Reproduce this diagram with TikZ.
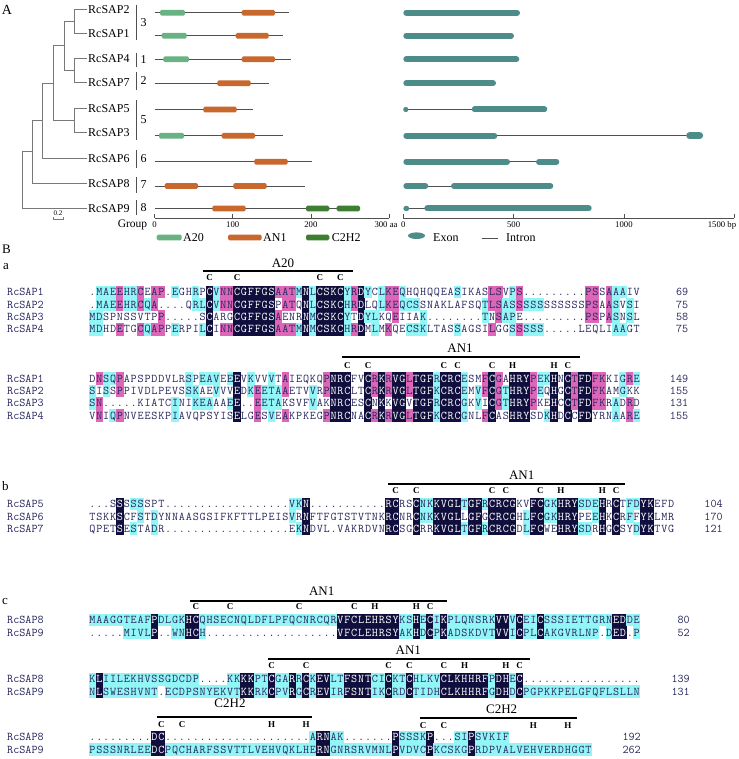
\documentclass[tikz,border=0pt]{standalone}
\usepackage{fontspec}
\setmainfont{Liberation Serif}
\definecolor{aTwenty}{RGB}{104,178,132}
\definecolor{anOne}{RGB}{201,104,44}
\definecolor{cTwoH}{RGB}{62,126,50}
\definecolor{exonc}{RGB}{78,140,138}
\definecolor{dkc}{RGB}{16,14,60}
\definecolor{mgc}{RGB}{220,102,184}
\definecolor{cyc}{RGB}{146,246,246}
\definecolor{seqtxt}{RGB}{40,40,95}
\definecolor{treec}{RGB}{120,120,120}
\definecolor{linec}{RGB}{80,80,80}
\newcommand\seqfont{\ttfamily\fontsize{11.8}{12}\selectfont}
\newcount\colk \newcount\matchn \newcount\nseq
\def\cw{6.89}\def\rowsep{12.4}
\def\zch{z}\def\dotch{.}\def\shdnone{none}\def\shddk{dkc}
\def\Dv{.....}
\def\popc#1#2{\ifx#1\empty\def#2{z}\else\expandafter\popcaux#1\popend#1#2\fi}
\def\popcaux#1#2\popend#3#4{\def#4{#1}\def#3{#2}}
\newif\ifmorecols
\def\blkloop{\morecolsfalse
  \ifx\sA\empty\else\morecolstrue\fi
  \ifx\sB\empty\else\morecolstrue\fi
  \ifx\sC\empty\else\morecolstrue\fi
  \ifx\sD\empty\else\morecolstrue\fi
  \ifmorecols\blkcol\expandafter\blkloop\fi}
\def\blkcol{\popc\sA\cA\popc\sB\cB\popc\sC\cC\popc\sD\cD
  \pgfmathsetmacro\xx{\bx+(\the\colk+0.5)*\cw}%
  \dorow{1}\cA\dorow{2}\cB\dorow{3}\cC\dorow{4}\cD
  \advance\colk by 1\relax}
\def\dorow#1#2{%
 \ifnum#1>\nseq\relax\else
  \ifx#2\zch\else
   \pgfmathsetmacro\yy{\by+(#1-1)*\rowsep}%
   \edef\nname{\blkid r#1c\the\colk}%
   \ifx#2\dotch
     \node[seqch,text=seqtxt] (\nname) at (\xx,\yy+3.6) {.};%
   \else
     \matchn=0\relax
     \ifx#2\cA\advance\matchn by 1\relax\fi
     \ifx#2\cB\advance\matchn by 1\relax\fi
     \ifx#2\cC\advance\matchn by 1\relax\fi
     \ifx#2\cD\advance\matchn by 1\relax\fi
     \ifnum\matchn=\nseq\relax \def\shd{dkc}\else
       \ifnum\numexpr4*\matchn\relax<\numexpr3*\nseq\relax
         \ifnum\numexpr2*\matchn\relax<\nseq\relax\def\shd{none}\else\def\shd{cyc}\fi
       \else\def\shd{mgc}\fi
     \fi
     \ifx\shd\shdnone\def\tcol{seqtxt}\else
       \fill[fill=\shd] (\xx-\cw/2-0.2,\yy-\rowsep/2-0.2) rectangle (\xx+\cw/2+0.2,\yy+\rowsep/2+0.2);%
       \ifx\shd\shddk\def\tcol{white}\else\def\tcol{seqtxt}\fi
     \fi
     \node[seqch,text=\tcol] (\nname) at (\xx,\yy+3.6) {#2};%
   \fi
  \fi
 \fi}
\def\alignblock#1#2#3#4#5#6#7#8{\def\blkid{#1}\def\bx{#2}\def\by{#3}\nseq=#4\relax
  \edef\sA{#5}\edef\sB{#6}\edef\sC{#7}\edef\sD{#8}\colk=0\relax\blkloop}
\newcommand\ctag[4]{\pgfmathsetmacro\tagx{89+(#2+0.5)*\cw}\node[tagf] (#1) at (\tagx,#3+3) {#4};}
\newcommand\dbarline[4]{\coordinate (#1l) at (#2,#4); \coordinate (#1r) at (#3,#4); \draw[dbar] (#1l) -- (#1r);}
\newcommand\rlab[3]{\node[rname] (#1) at (7,#3+3.6) {#2};}
\newcommand\rnumb[4]{\node[rnum] (#1) at (#2,#3+3.6) {#4};}
\newcommand\domb[4]{\fill[#1, rounded corners=1.5pt] (#2,#4-2.9) rectangle (#3,#4+2.9);}
\newcommand\exn[3]{\draw[exonc, line width=6pt, line cap=round] (#1+3,#3) -- (#2-3,#3);}
\begin{document}
\begin{tikzpicture}[x=1pt,y=-1pt,
  leaf/.style={anchor=west,inner sep=0pt,font=\fontsize{12}{12}\selectfont},
  grpn/.style={inner sep=0pt,font=\fontsize{12}{12}\selectfont},
  axl/.style={anchor=base,inner sep=0pt,font=\fontsize{8.7}{9}\selectfont},
  lgd/.style={anchor=west,inner sep=0pt,font=\fontsize{12}{12}\selectfont},
  treeln/.style={draw=treec,line width=1pt},
  gbar/.style={draw=linec,line width=0.9pt},
  pline/.style={draw=linec,line width=0.8pt},
  seqch/.style={anchor=base,inner sep=0pt,font=\seqfont},
  rname/.style={anchor=base west,inner sep=0pt,font=\seqfont,text=seqtxt},
  rnum/.style={anchor=base east,inner sep=0pt,font=\seqfont,text=seqtxt},
  tagf/.style={anchor=base,inner sep=0pt,font=\fontsize{9}{9}\selectfont\bfseries},
  ttl/.style={inner sep=0pt,font=\fontsize{13}{13}\selectfont},
  dbar/.style={draw=black,line width=1.8pt},
  plab/.style={inner sep=0pt,font=\fontsize{14}{14}\selectfont},
  plabs/.style={anchor=base west,inner sep=0pt,font=\fontsize{13}{13}\selectfont}]
\useasboundingbox (0,0) rectangle (738,759);
\fill[white] (0,0) rectangle (738,759);
% ================= Panel A =================
\node[plab] (labA) at (7,10) {A};
\node[leaf] (L2) at (88,9.5) {RcSAP2};
\node[leaf] (L1) at (88,33.5) {RcSAP1};
\node[leaf] (L4) at (88,58.5) {RcSAP4};
\node[leaf] (L7) at (88,82.5) {RcSAP7};
\node[leaf] (L5) at (88,108.3) {RcSAP5};
\node[leaf] (L3) at (88,132.7) {RcSAP3};
\node[leaf] (L6) at (88,158.3) {RcSAP6};
\node[leaf] (L8) at (88,183.3) {RcSAP8};
\node[leaf] (L9) at (88,208.3) {RcSAP9};
\coordinate (n21) at (74,21.5);
\coordinate (n47) at (74,70.5);
\coordinate (n2147) at (64,46);
\coordinate (n53) at (74,120.5);
\coordinate (nA) at (53.3,83.3);
\coordinate (nB) at (42.7,120.8);
\coordinate (nC) at (32.3,152);
\coordinate (nroot) at (22.3,180.2);
\draw[treeln] ([xshift=-1pt]L2.west) -| (n21);
\draw[treeln] ([xshift=-1pt]L1.west) -| (n21);
\draw[treeln] ([xshift=-1pt]L4.west) -| (n47);
\draw[treeln] ([xshift=-1pt]L7.west) -| (n47);
\draw[treeln] (n21) -| (n2147);
\draw[treeln] (n47) -| (n2147);
\draw[treeln] ([xshift=-1pt]L5.west) -| (n53);
\draw[treeln] ([xshift=-1pt]L3.west) -| (n53);
\draw[treeln] (n2147) -| (nA);
\draw[treeln] (n53) -| (nA);
\draw[treeln] (nA) -| (nB);
\draw[treeln] ([xshift=-1pt]L6.west) -| (nB);
\draw[treeln] (nB) -| (nC);
\draw[treeln] ([xshift=-1pt]L8.west) -| (nC);
\draw[treeln] (nC) -| (nroot);
\draw[treeln] ([xshift=-1pt]L9.west) -| (nroot);
% scale bar
\node[inner sep=0pt,font=\fontsize{7}{7}\selectfont] (scl) at (58,213) {0.2};
\coordinate (sc1) at (53,216.5); \coordinate (sc2) at (53,219.5);
\coordinate (sc3) at (63,219.5); \coordinate (sc4) at (63,216.5);
\draw[treeln,line width=0.6pt] (sc1) -- (sc2) -- (sc3) -- (sc4);
% group bars
\foreach \gn/\ga/\gb/\gy in {g3/5/40/3, g1/53/67/1, g2/72/90/2, g5/100/140/5, g6/150/168/6, g7/177/193/7, g8/200/215/8}{
  \coordinate (\gn a) at (136.7,\ga); \coordinate (\gn b) at (136.7,\gb);
  \draw[gbar] (\gn a) -- (\gn b);
  \node[grpn] (\gn t) at (143.5,{(\ga+\gb)/2}) {\gy};
}
\node[inner sep=0pt,font=\fontsize{11.5}{12}\selectfont] (grpl) at (132.5,225) {Group};
% protein structures
\foreach \pn/\py/\pe in {p2/12.7/289.3, p1/35.7/282.7, p4/59.3/290.7, p7/83.3/268.7, p5/109.5/252.7, p3/135.7/282.7, p6/161.7/311.7, p8/186/305, p9/208.5/358}{
  \coordinate (\pn s) at (154.5,\py); \coordinate (\pn e) at (\pe,\py);
  \draw[pline] (\pn s) -- (\pn e);
}
\domb{aTwenty}{160}{185}{12.7}\domb{anOne}{241.7}{275}{12.7}
\domb{aTwenty}{161.7}{186.7}{35.7}\domb{anOne}{235.7}{268.7}{35.7}
\domb{aTwenty}{163.3}{189}{59.3}\domb{anOne}{241.7}{275}{59.3}
\domb{anOne}{217.3}{250.7}{83.3}
\domb{anOne}{203.3}{236.7}{109.5}
\domb{aTwenty}{159}{184}{135.7}\domb{anOne}{221.7}{255}{135.7}
\domb{anOne}{254.3}{287.7}{161.7}
\domb{anOne}{164.7}{198}{186}\domb{anOne}{233.3}{266.7}{186}
\domb{anOne}{212.3}{245.7}{208.5}\domb{cTwoH}{306}{329.3}{208.5}\domb{cTwoH}{336.7}{360}{208.5}
% left axis
\coordinate (lax0) at (154.5,218.3); \coordinate (lax3) at (389.1,218.3);
\draw[pline] (lax0) -- (lax3);
\foreach \tx in {154.5,232.7,310.9,389.1}{\draw[pline] (\tx,214.3) -- (\tx,218.3);}
\node[axl] (lt0) at (154.5,227.5) {0};
\node[axl] (lt1) at (232.7,227.5) {100};
\node[axl] (lt2) at (310.9,227.5) {200};
\node[axl] (lt3) at (386,227.5) {300 aa};
% left legend
\domb{aTwenty}{156.7}{181.7}{237.5}\node[lgd] (lgA) at (183,238) {A20};
\domb{anOne}{228}{261.7}{237.5}\node[lgd] (lgB) at (263,238) {AN1};
\domb{cTwoH}{306}{329.3}{237.5}\node[lgd] (lgC) at (331.7,238) {C2H2};
% gene structures
\exn{403.3}{520}{12.7}
\exn{403.3}{514}{35.7}
\exn{403.3}{519.3}{59.3}
\exn{403.3}{496}{83.3}
\coordinate (i5a) at (405.8,109.5); \coordinate (i5b) at (474,109.5);
\draw[pline] (i5a) -- (i5b);
\fill[exonc] (405.8,109.5) ellipse (2.6 and 2.6);
\exn{471.7}{547.3}{109.5}
\coordinate (i3a) at (495,135.7); \coordinate (i3b) at (690,135.7);
\draw[pline] (i3a) -- (i3b);
\exn{403.3}{497.3}{135.7}
\draw[exonc, line width=7pt, line cap=round] (689.7,135.7) -- (699.6,135.7);
\coordinate (i6a) at (508,161.7); \coordinate (i6b) at (538,161.7);
\draw[pline] (i6a) -- (i6b);
\exn{403.3}{510}{161.7}\exn{536}{559.3}{161.7}
\coordinate (i8a) at (426,186); \coordinate (i8b) at (453,186);
\draw[pline] (i8a) -- (i8b);
\exn{403.3}{428.3}{186}\exn{451}{553.3}{186}
\coordinate (i9a) at (406,208.5); \coordinate (i9b) at (427,208.5);
\draw[pline] (i9a) -- (i9b);
\fill[exonc] (406.3,208.5) ellipse (3 and 2.7);
\exn{424.3}{591.7}{208.5}
% right axis
\coordinate (rax0) at (403.3,218.3); \coordinate (rax3) at (734.2,218.3);
\draw[pline] (rax0) -- (rax3);
\foreach \tx in {403.3,513.6,623.9,734.2}{\draw[pline] (\tx,214.3) -- (\tx,218.3);}
\node[axl] (rt0) at (403.3,227.5) {0};
\node[axl] (rt1) at (513.6,227.5) {500};
\node[axl] (rt2) at (623.9,227.5) {1000};
\node[axl] (rt3) at (722,227.5) {1500 bp};
\fill[exonc] (416.5,235.7) ellipse (8.5 and 3.3);
\node[lgd] (lgE) at (433,237.5) {Exon};
\coordinate (lgi1) at (481.7,238.3); \coordinate (lgi2) at (498.3,238.3);
\draw[pline] (lgi1) -- (lgi2);
\node[lgd] (lgI) at (506,237.5) {Intron};
% ================= Panel B =================
\node[plabs] (labB) at (2,253.5) {B};
\node[plabs] (laba) at (3,269.5) {a};
\node[plabs] (labb) at (2,490) {b};
\node[plabs] (labc) at (2,604) {c};
% ---- block a1
\node[ttl] (ta1) at (283,263) {A20};
\dbarline{ba1}{203}{353.3}{270.7}
\ctag{ca1a}{17}{277.7}{C}\ctag{ca1b}{21}{277.7}{C}\ctag{ca1c}{33}{277.7}{C}\ctag{ca1d}{36}{277.7}{C}
\rlab{na1a}{RcSAP1}{292}\rlab{na1b}{RcSAP2}{304.4}\rlab{na1c}{RcSAP3}{316.8}\rlab{na1d}{RcSAP4}{329.2}
\alignblock{qa}{89}{292}{4}%
{.MAEEHRCEAP.EGHRPCVNNCGFFGSAATMNLCSKCYRDYCLKEQHQHQQEASIKASLSVPS\Dv....PSSAAAIV}%
{.MAEEHRCQA....QRLCVNNCGFFGSPATQNLCSKCHRDLQLKEQCSSNAKLAFSQTLSASSSSSSSSSSSPSAASVSI}%
{MDSPNSSVTPP\Dv SCARGCGFFGSAENRNMCSKCYTDYLKQEIIAK\Dv...TNSAPE\Dv....PSPASNSL}%
{MDHDETGCQAPPERPILCINNCGFFGSAATMNMCSKCHRDMLMKQECSKLTASSAGSILGGSSSSS\Dv LEQLIAAGT}
\rnumb{ma1a}{688.4}{292}{69}\rnumb{ma1b}{688.4}{304.4}{75}\rnumb{ma1c}{688.4}{316.8}{58}\rnumb{ma1d}{688.4}{329.2}{75}
% ---- block a2
\node[ttl] (ta2) at (460,348.3) {AN1};
\dbarline{ba2}{341.7}{580}{357.3}
\ctag{ca2a}{37}{365}{C}\ctag{ca2b}{40}{365}{C}\ctag{ca2c}{51}{365}{C}\ctag{ca2d}{53}{365}{C}
\ctag{ca2e}{58}{365}{C}\ctag{ca2f}{61}{365}{H}\ctag{ca2g}{67}{365}{H}\ctag{ca2h}{69}{365}{C}
\rlab{na2a}{RcSAP1}{378.5}\rlab{na2b}{RcSAP2}{390.9}\rlab{na2c}{RcSAP3}{403.3}\rlab{na2d}{RcSAP4}{415.7}
\alignblock{qb}{89}{378.5}{4}%
{DNSQPAPSPDDVLRSPEAVEEEVKVVVTAIEQKQPNRCFVCRKRVGLTGFRCRCESMFCGAHRYPEKHNCTFDFKKIGRE}%
{SISSPPIVDLPEVSSKAEVVVEDKEETAAETVVRPNRCLTCRKRVGLTGFKCRCEMVFCGTHRYPEQHGCTFDFKAMGKK}%
{SN\Dv KIATCINIKEAAAEE..EETAKSVFVAKNRCESCNKKVGVTGFRCRCGKVICGTHRYPKEHCCTFDFKRADRD}%
{VNIQPNVEESKPIAVQPSYISELGESVEAKPKEGPNRCNACRKRVGLTGFKCRCGNLFCASHRYSDKHDCCFDYRNAARE}
\rnumb{ma2a}{688.4}{378.5}{149}\rnumb{ma2b}{688.4}{390.9}{155}\rnumb{ma2c}{688.4}{403.3}{131}\rnumb{ma2d}{688.4}{415.7}{155}
% ---- block b
\node[ttl] (tb) at (521.7,475) {AN1};
\dbarline{bb}{388.3}{625}{484}
\ctag{cba}{44}{490}{C}\ctag{cbb}{47}{490}{C}\ctag{cbc}{58}{490}{C}\ctag{cbd}{60}{490}{C}
\ctag{cbe}{65}{490}{C}\ctag{cbf}{68}{490}{H}\ctag{cbg}{74}{490}{H}\ctag{cbh}{76}{490}{C}
\rlab{nba}{RcSAP5}{504}\rlab{nbb}{RcSAP6}{516.4}\rlab{nbc}{RcSAP7}{528.8}
\alignblock{qc}{89}{504}{3}%
{...SSSSSSPT\Dv\Dv\Dv...VKN\Dv\Dv.RCRSCNKKVGLTGFRCRCGKVFCGKHRYSDEHRCTFDYKEFD}%
{TSKKSCFSTDYNNAASGSIFKFTTLPEISVRNFTFGTSTVTNKRCNRCNKKVGLLGFGCRCGHLFCGKHRYPEEHKCRFFYKLMR}%
{QPETSESTADR\Dv\Dv\Dv...EKNDVL.VAKRDVNRCSGCRRKVGLTGFRCRCGDLFCWEHRYSDRHGCSYDYKTVG}%
{}
\rnumb{mba}{722.9}{504}{104}\rnumb{mbb}{722.9}{516.4}{170}\rnumb{mbc}{722.9}{528.8}{121}
% ---- block c1
\node[ttl] (tc1) at (321.7,591.7) {AN1};
\dbarline{bc1}{190}{447.3}{600.7}
\ctag{cc1a}{15}{606.7}{C}\ctag{cc1b}{20}{606.7}{C}\ctag{cc1c}{30}{606.7}{C}\ctag{cc1d}{38}{606.7}{C}
\ctag{cc1e}{41}{606.7}{H}\ctag{cc1f}{47}{606.7}{H}\ctag{cc1g}{49}{606.7}{C}
\rlab{nc1a}{RcSAP8}{620}\rlab{nc1b}{RcSAP9}{632.4}
\alignblock{qd}{89}{620}{2}%
{MAAGGTEAFPDLGKHCQHSECNQLDFLPFQCNRCQRVFCLEHRSYKSHECIKPLQNSRKVVVCEICSSSIETTGRNEDDE}%
{\Dv MIVLP..WNHCH\Dv\Dv\Dv....VFCLEHRSYAKHDCPKADSKDVTVVICPLCAKGVRLNP.DED.P}%
{}{}
\rnumb{mc1a}{690}{620}{80}\rnumb{mc1b}{690}{632.4}{52}
% ---- block c2
\node[ttl] (tc2) at (408.3,650) {AN1};
\dbarline{bc2}{268.3}{530}{659}
\ctag{cc2a}{26}{665}{C}\ctag{cc2b}{31}{665}{C}\ctag{cc2c}{43}{665}{C}\ctag{cc2d}{46}{665}{C}
\ctag{cc2e}{51}{665}{C}\ctag{cc2f}{54}{665}{H}\ctag{cc2g}{60}{665}{H}\ctag{cc2h}{62}{665}{C}
\rlab{nc2a}{RcSAP8}{679.3}\rlab{nc2b}{RcSAP9}{691.7}
\alignblock{qe}{89}{679.3}{2}%
{KLIILEKHVSSGDCDP....KKKKPTCGARRCKEVLTFSNTCICKTCHLKVCLKHHRFPDHEC\Dv\Dv\Dv..}%
{NLSWESHVNT.ECDPSNYEKVTKKRKCPVRGCREVIRFSNTIKCRDCTIDHCLKHHRFGDHDCPGPKKPELGFQFLSLLN}%
{}{}
\rnumb{mc2a}{690}{679.3}{139}\rnumb{mc2b}{690}{691.7}{131}
% ---- block c3
\node[ttl] (tc3a) at (230,703.5) {C2H2};
\dbarline{bc3a}{156.7}{311.7}{717.3}
\node[ttl] (tc3b) at (501.7,709.5) {C2H2};
\dbarline{bc3b}{420}{576.7}{718.3}
\ctag{cc3a}{10}{724}{C}\ctag{cc3b}{13}{724}{C}\ctag{cc3c}{26}{724}{H}\ctag{cc3d}{31}{724}{H}
\ctag{cc3e}{48}{725}{C}\ctag{cc3f}{51}{725}{C}\ctag{cc3g}{64}{725}{H}\ctag{cc3h}{69}{725}{H}
\rlab{nc3a}{RcSAP8}{737.3}\rlab{nc3b}{RcSAP9}{749.7}
\alignblock{qf}{89}{737.3}{2}%
{\Dv....DC\Dv\Dv\Dv\Dv.ARNAK\Dv..PSSSKP...SIPSVKIF}%
{PSSSNRLEEDCPQCHARFSSVTTLVEHVQKLHERNGNRSRVMNLPVDVCPKCSKGPRDPVALVEHVERDHGGT}%
{}{}
\rnumb{mc3a}{641}{737.3}{192}\rnumb{mc3b}{641}{749.7}{262}
\end{tikzpicture}
\end{document}
